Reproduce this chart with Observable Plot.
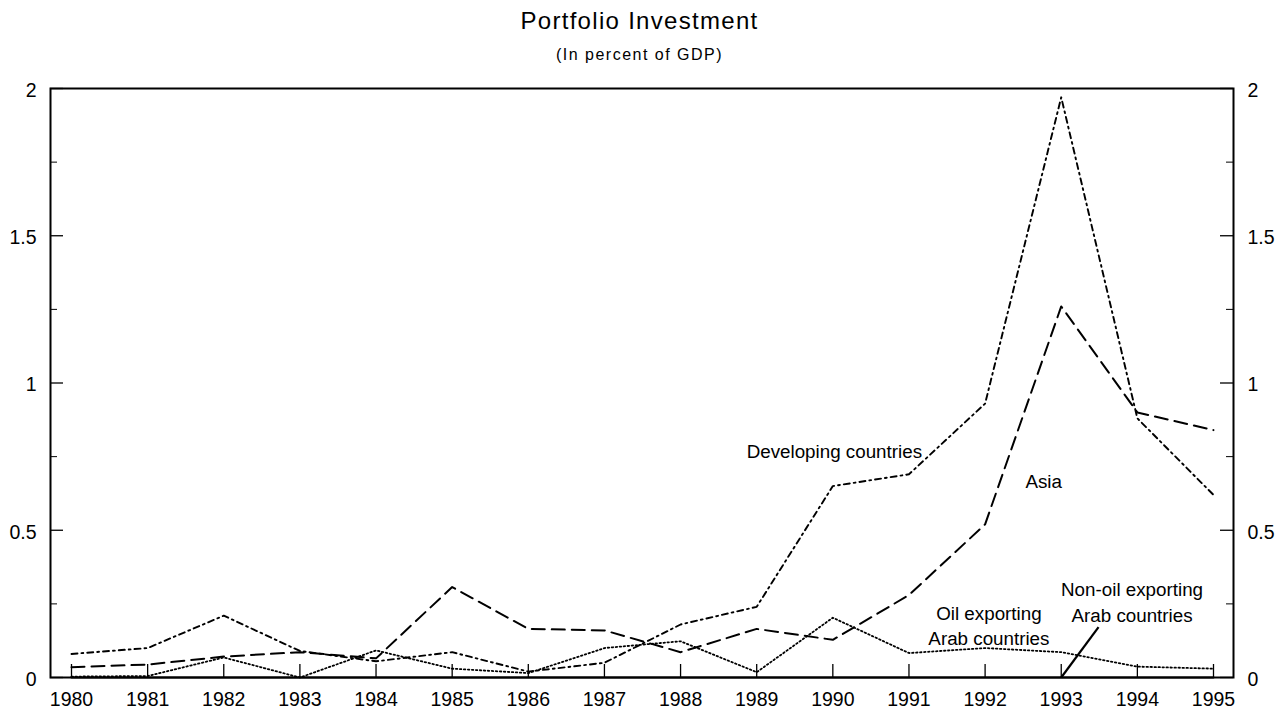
<!DOCTYPE html>
<html>
<head>
<meta charset="utf-8">
<script src="https://cdn.jsdelivr.net/npm/d3@7"></script>
<script src="https://cdn.jsdelivr.net/npm/@observablehq/plot@0.6"></script>
<style>
  body { margin: 0; background: #fff; font-family: "Liberation Sans", Arial, sans-serif; color: #000; }
  #title { height: 42px; line-height: 42px; text-align: center; font-size: 24px; letter-spacing: 1.3px; }
  #subtitle { height: 26px; line-height: 26px; text-align: center; font-size: 16px; letter-spacing: 1.5px; }
  #chart svg { display: block; }
  #chart svg g[aria-label*="tick label"],
  #chart svg g[aria-label*="tick label"] text { font-size: 19.5px !important; }
</style>
</head>
<body>
<div id="title">Portfolio Investment</div>
<div id="subtitle">(In percent of GDP)</div>
<div id="chart"></div>
<script>
// ---- Data ----
const years = [1980, 1981, 1982, 1983, 1984, 1985, 1986, 1987, 1988, 1989, 1990, 1991, 1992, 1993, 1994, 1995];
const developing = [0.08, 0.10, 0.21, 0.09, 0.055, 0.086, 0.02, 0.05, 0.18, 0.24, 0.65, 0.69, 0.93, 1.97, 0.88, 0.62];
const asia       = [0.035, 0.044, 0.071, 0.086, 0.065, 0.307, 0.165, 0.16, 0.086, 0.165, 0.128, 0.28, 0.52, 1.26, 0.90, 0.84];
const oilArab    = [0.003, 0.005, 0.068, 0.0, 0.092, 0.03, 0.015, 0.10, 0.123, 0.018, 0.203, 0.083, 0.10, 0.086, 0.037, 0.03];
const nonOilArab = [0, 0, 0, 0, 0, 0, 0, 0, 0, 0, 0, 0, 0, 0, 0, 0];
const yMajorTicks = [0, 0.5, 1, 1.5, 2];
const yMinorTicks = [0.25, 0.75, 1.25, 1.75];

const labelX    = [1990.02, 1992.77, 1992.05, 1993.93];
const labelY    = [0.774, 0.672, 0.18, 0.26];
const labelText = ["Developing countries", "Asia", "Oil exporting\nArab countries", "Non-oil exporting\nArab countries"];

const leaderX1 = [1993], leaderY1 = [0], leaderX2 = [1993.49], leaderY2 = [0.171];

// ---- Build tables ----
const toRows = (vals) => years.map((yr, i) => ({year: yr, value: vals[i]}));
const labels = labelText.map((t, i) => ({x: labelX[i], y: labelY[i], text: t}));
const leader = leaderX1.map((d, i) => ({x1: d, y1: leaderY1[i], x2: leaderX2[i], y2: leaderY2[i]}));

const W = 1279, H = 645, mL = 50, mR = 46, mT = 20, mB = 36;
const plotW = W - mL - mR;
const plotH = H - mT - mB;
const font = "'Liberation Sans', Arial, sans-serif";

const chart = Plot.plot({
  width: W, height: H,
  marginLeft: mL, marginRight: mR, marginTop: mT, marginBottom: mB,
  style: {fontFamily: font, fontSize: "18.5px", color: "#000", background: "#fff"},
  x: {domain: [1980, 1995], insetLeft: 21, insetRight: 20, label: null},
  y: {domain: [0, 2], label: null},
  marks: [
    // inward ticks
    Plot.tickY(yMajorTicks, {y: d => d, insetRight: plotW - 13, stroke: "#000", strokeWidth: 1.3}),
    Plot.tickY(yMinorTicks, {y: d => d, insetRight: plotW - 7, stroke: "#000", strokeWidth: 1}),
    Plot.tickY(yMajorTicks, {y: d => d, insetLeft: plotW - 13, stroke: "#000", strokeWidth: 1.3}),
    Plot.tickY(yMinorTicks, {y: d => d, insetLeft: plotW - 7, stroke: "#000", strokeWidth: 1}),
    Plot.tickX(years, {x: d => d, insetTop: plotH - 13, stroke: "#000", strokeWidth: 1.3}),
    // axes labels
    Plot.axisY({anchor: "left", ticks: yMajorTicks, tickFormat: d => String(d), tickSize: 0, tickPadding: 14, fontSize: 19.5, dy: 2}),
    Plot.axisY({anchor: "right", ticks: yMajorTicks, tickFormat: d => String(d), tickSize: 0, tickPadding: 14, fontSize: 19.5, dy: 2}),
    Plot.axisX({anchor: "bottom", ticks: years, tickFormat: d => String(d), tickSize: 0, tickPadding: 15, fontSize: 19.5}),
    // series
    Plot.line(toRows(nonOilArab), {x: "year", y: "value", stroke: "#000", strokeWidth: 2.2}),
    Plot.line(toRows(oilArab), {x: "year", y: "value", stroke: "#000", strokeWidth: 1.8, strokeDasharray: "1.5,2.5"}),
    Plot.line(toRows(asia), {x: "year", y: "value", stroke: "#000", strokeWidth: 2, strokeDasharray: "13,7"}),
    Plot.line(toRows(developing), {x: "year", y: "value", stroke: "#000", strokeWidth: 1.9, strokeDasharray: "6,4,1.8,4"}),
    Plot.frame({stroke: "#000", strokeWidth: 2}),
    // annotations
    Plot.link(leader, {x1: "x1", y1: "y1", x2: "x2", y2: "y2", stroke: "#000", strokeWidth: 2.2}),
    Plot.text(labels, {x: "x", y: "y", text: "text", fontSize: 18.8, lineHeight: 1.35, fill: "#000", textAnchor: "middle"})
  ]
});
document.getElementById("chart").appendChild(chart);
</script>
</body>
</html>
